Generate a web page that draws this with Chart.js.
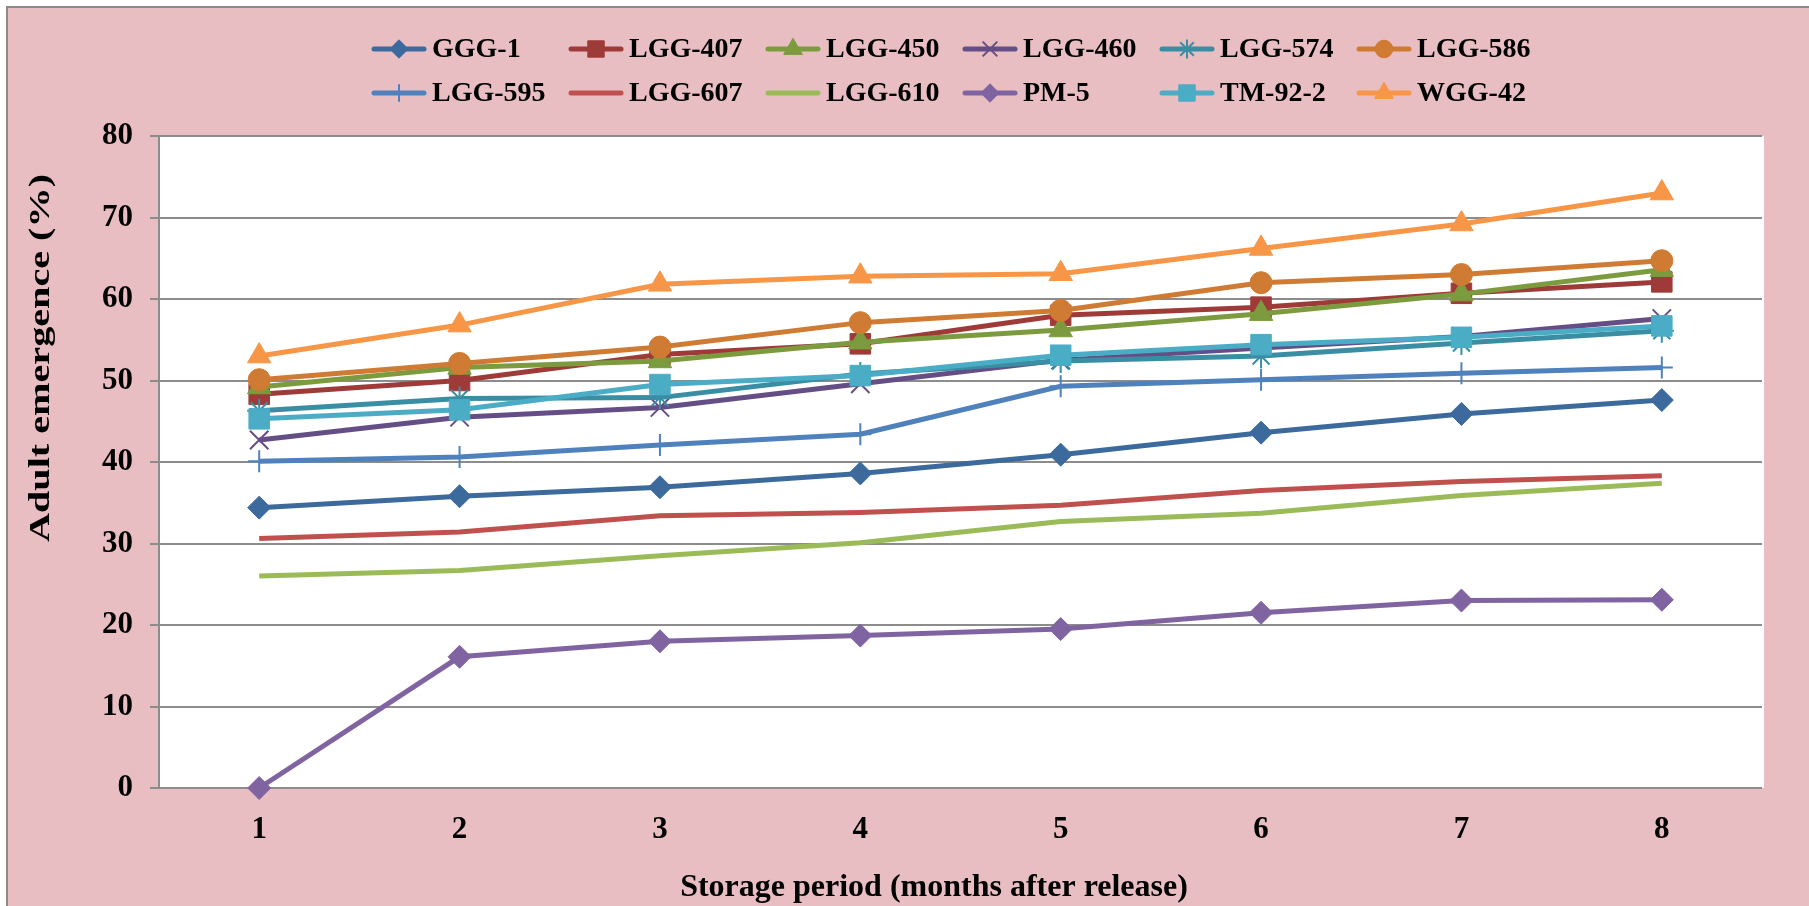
<!DOCTYPE html>
<html>
<head>
<meta charset="utf-8">
<script src="https://cdn.jsdelivr.net/npm/chart.js@4/dist/chart.umd.min.js"></script>
<style>
html,body{margin:0;padding:0;background:#ffffff;overflow:hidden}
#wrap{position:absolute;left:0;top:0;width:1809px;height:906px}
</style>
</head>
<body>
<div id="wrap"><canvas id="c" width="1809" height="906"></canvas></div>
<script>
// ---- data ----
const categories = ['1', '2', '3', '4', '5', '6', '7', '8'];
const seriesNames = ['GGG-1', 'LGG-407', 'LGG-450', 'LGG-460', 'LGG-574', 'LGG-586',
                     'LGG-595', 'LGG-607', 'LGG-610', 'PM-5', 'TM-92-2', 'WGG-42'];
const ggg1   = [34.4, 35.8, 36.9, 38.6, 40.9, 43.6, 45.9, 47.6];
const lgg407 = [48.3, 50.0, 53.2, 54.5, 58.0, 59.0, 60.7, 62.1];
const lgg450 = [49.2, 51.6, 52.4, 54.7, 56.2, 58.2, 60.6, 63.6];
const lgg460 = [42.7, 45.5, 46.7, 49.6, 52.5, 54.0, 55.4, 57.6];
const lgg574 = [46.3, 47.8, 47.9, 50.8, 52.4, 53.0, 54.6, 56.1];
const lgg586 = [50.1, 52.1, 54.1, 57.1, 58.6, 62.0, 63.0, 64.7];
const lgg595 = [40.1, 40.6, 42.1, 43.4, 49.3, 50.1, 50.9, 51.6];
const lgg607 = [30.6, 31.4, 33.4, 33.8, 34.7, 36.5, 37.6, 38.3];
const lgg610 = [26.0, 26.7, 28.5, 30.1, 32.7, 33.7, 35.9, 37.4];
const pm5    = [0.0, 16.1, 18.0, 18.7, 19.5, 21.5, 23.0, 23.1];
const tm922  = [45.3, 46.4, 49.5, 50.6, 53.1, 54.4, 55.3, 56.7];
const wgg42  = [53.0, 56.8, 61.8, 62.8, 63.1, 66.2, 69.2, 73.0];
const yTicks = [0, 10, 20, 30, 40, 50, 60, 70, 80];
const xTitle = 'Storage period (months after release)';
const yTitle = 'Adult emergence (%)';

const seriesValues = [ggg1, lgg407, lgg450, lgg460, lgg574, lgg586, lgg595, lgg607, lgg610, pm5, tm922, wgg42];

// ---- styles ----
const colors = ['#3C6A9C', '#9E3B38', '#7B9B3E', '#654E86', '#3A8EA3', '#D07B33',
                '#4F81BD', '#C0504D', '#9BBB59', '#8064A2', '#4BACC6', '#F79646'];
const markers = [
  {style: 'rectRot', r: 11.5, bw: 1},
  {style: 'rect', r: 14.5, bw: 1},
  {style: 'triangle', r: 13.5, bw: 1},
  {style: 'crossRot', r: 13, bw: 2},
  {style: 'star', r: 12, bw: 2},
  {style: 'circle', r: 11, bw: 1},
  {style: 'cross', r: 11, bw: 2},
  {style: false, r: 0, bw: 0},
  {style: false, r: 0, bw: 0},
  {style: 'rectRot', r: 11.5, bw: 1},
  {style: 'rect', r: 14.5, bw: 1},
  {style: 'triangle', r: 13.5, bw: 1}
];
const FONT = "'Liberation Serif','Times New Roman',serif";

const datasets = seriesNames.map((name, i) => ({
  label: name,
  data: seriesValues[i],
  borderColor: colors[i],
  backgroundColor: colors[i],
  borderWidth: 5,
  tension: 0,
  pointStyle: markers[i].style || 'circle',
  pointRadius: markers[i].r,
  pointHoverRadius: markers[i].r,
  pointBorderWidth: markers[i].bw,
  pointBorderColor: colors[i],
  pointBackgroundColor: colors[i],
  order: seriesNames.length - 1 - i,
  clip: false
}));

const PLOT = {left: 159, top: 136, right: 1762, bottom: 788};

const backgroundPlugin = {
  id: 'bg',
  beforeDraw(chart) {
    const ctx = chart.ctx;
    ctx.save();
    ctx.fillStyle = '#ffffff';
    ctx.fillRect(0, 0, chart.width, chart.height);
    ctx.fillStyle = '#E8BEC2';
    ctx.fillRect(7, 7, chart.width, chart.height);
    ctx.strokeStyle = '#8a8a8a';
    ctx.lineWidth = 2;
    ctx.strokeRect(7, 7, chart.width + 10, chart.height + 10);
    const a = chart.chartArea;
    ctx.fillStyle = '#ffffff';
    ctx.fillRect(a.left, a.top, a.right - a.left + 2, a.bottom - a.top);
    ctx.restore();
  }
};

const decorPlugin = {
  id: 'decor',
  afterDraw(chart) {
    const ctx = chart.ctx;
    ctx.save();
    // legend (grid of 6 columns x 2 rows)
    ctx.font = 'bold 28px ' + FONT;
    ctx.textBaseline = 'middle';
    ctx.textAlign = 'left';
    chart.data.datasets.forEach((ds, i) => {
      const col = i % 6, row = Math.floor(i / 6);
      const x0 = 372 + col * 197;
      const y = row === 0 ? 49 : 93;
      ctx.strokeStyle = ds.borderColor;
      ctx.lineWidth = 5;
      ctx.lineCap = 'round';
      ctx.beginPath();
      ctx.moveTo(x0 + 2, y);
      ctx.lineTo(x0 + 52, y);
      ctx.stroke();
      const m = markers[i];
      if (m.style) {
        ctx.fillStyle = ds.borderColor;
        ctx.strokeStyle = ds.borderColor;
        ctx.lineWidth = m.bw;
        ctx.lineCap = 'butt';
        Chart.helpers.drawPoint(ctx, {pointStyle: m.style, radius: m.r * 0.8, borderWidth: m.bw, rotation: 0}, x0 + 27, y);
      }
      ctx.fillStyle = '#000000';
      ctx.fillText(ds.label, x0 + 60, y + 1);
    });
    // x title
    ctx.font = 'bold 32px ' + FONT;
    ctx.textAlign = 'center';
    ctx.fillStyle = '#000000';
    ctx.fillText(xTitle, 934, 888);
    // y title (rotated)
    ctx.translate(42, 358);
    ctx.rotate(-Math.PI / 2);
    ctx.font = 'bold 29px ' + FONT;
    const w = ctx.measureText(yTitle).width;
    const target = 368;
    ctx.scale(target / w, 1);
    ctx.fillText(yTitle, 0, 0);
    ctx.restore();
  }
};

new Chart(document.getElementById('c'), {
  type: 'line',
  data: {labels: categories, datasets: datasets},
  options: {
    responsive: false,
    animation: false,
    devicePixelRatio: 1,
    layout: {padding: {left: 0, top: PLOT.top, right: 1809 - PLOT.right, bottom: 0}},
    plugins: {legend: {display: false}, tooltip: {enabled: false}, title: {display: false}},
    scales: {
      x: {
        type: 'category',
        offset: true,
        grid: {display: false, drawTicks: false},
        border: {display: false},
        ticks: {color: '#000', font: {family: FONT, size: 31, weight: 'bold'}, padding: 23, maxRotation: 0},
        afterFit(s) { s.height = 906 - PLOT.bottom; }
      },
      y: {
        min: 0, max: 80,
        afterBuildTicks(s) { s.ticks = yTicks.map(v => ({value: v})); },
        grid: {color: '#8c8c8c', lineWidth: 2, tickLength: 9, drawTicks: true},
        border: {display: true, color: '#8c8c8c', width: 2},
        ticks: {color: '#000', font: {family: FONT, size: 31, weight: 'bold'}, padding: 17},
        afterFit(s) { s.width = PLOT.left; }
      }
    }
  },
  plugins: [backgroundPlugin, decorPlugin]
});
</script>
</body>
</html>
